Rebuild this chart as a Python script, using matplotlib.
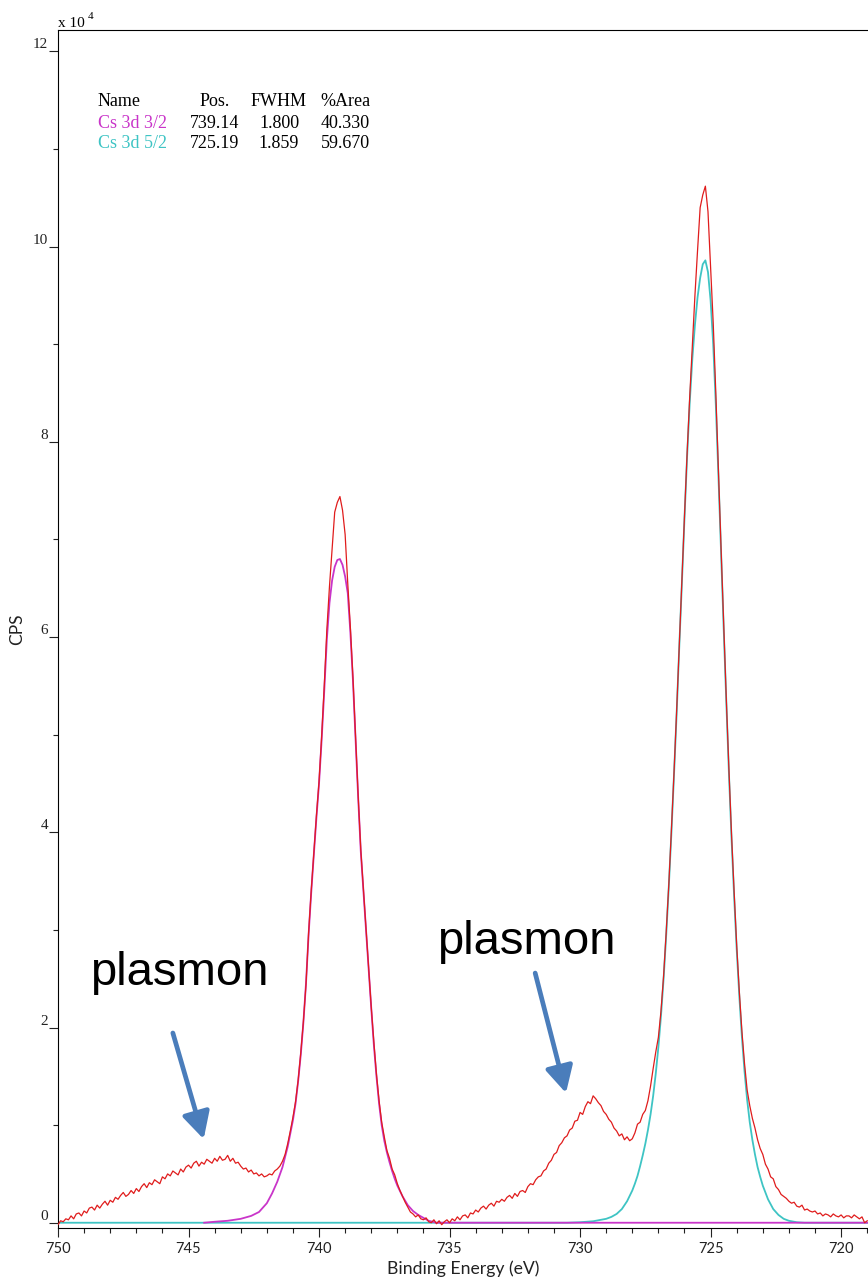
import numpy as np
import matplotlib
matplotlib.use('Agg')
from matplotlib import pyplot as plt
from matplotlib.ticker import MultipleLocator, FuncFormatter

# measured envelope, x 10^4 CPS, 0.1 eV steps from 750.0 eV down to 719.0 eV
be_start = 750.0
be_step = 0.1
cps_total = [
    -0.02, 0.02, 0.01, 0.04, 0.03, 0.07, 0.04, 0.09, 0.10, 0.07,   # 750
    0.12, 0.10, 0.15, 0.16, 0.13, 0.18, 0.15, 0.19, 0.22, 0.18,    # 749
    0.23, 0.21, 0.26, 0.24, 0.28, 0.31, 0.27, 0.29, 0.33, 0.30,    # 748
    0.35, 0.32, 0.37, 0.40, 0.36, 0.41, 0.39, 0.44, 0.42, 0.40,    # 747
    0.47, 0.45, 0.50, 0.48, 0.53, 0.51, 0.49, 0.55, 0.52, 0.57,    # 746
    0.59, 0.56, 0.61, 0.63, 0.58, 0.62, 0.60, 0.65, 0.63, 0.61,    # 745
    0.66, 0.63, 0.68, 0.64, 0.65, 0.69, 0.63, 0.66, 0.61, 0.62,    # 744
    0.58, 0.55, 0.56, 0.52, 0.54, 0.50, 0.51, 0.48, 0.50, 0.47,    # 743
    0.48, 0.50, 0.49, 0.53, 0.55, 0.58, 0.63, 0.70, 0.81, 0.94,    # 742
    1.08, 1.24, 1.46, 1.74, 2.06, 2.44, 2.97, 3.40, 3.78, 4.17,    # 741
    4.52, 4.98, 5.50, 6.08, 6.52, 6.90, 7.28, 7.38, 7.44, 7.30,    # 740
    7.05, 6.55, 6.10, 5.58, 4.97, 4.37, 3.82, 3.42, 3.03, 2.62,    # 739
    2.21, 1.85, 1.52, 1.25, 1.03, 0.88, 0.74, 0.66, 0.55, 0.49,    # 738
    0.40, 0.33, 0.27, 0.21, 0.16, 0.11, 0.09, 0.06, 0.08, 0.04,    # 737
    0.03, 0.05, 0.01, 0.00, 0.03, -0.01, 0.02, -0.02, 0.01, 0.03,  # 736
    0.00, 0.04, 0.02, 0.06, 0.03, 0.07, 0.08, 0.05, 0.10, 0.09,    # 735
    0.13, 0.11, 0.15, 0.17, 0.14, 0.18, 0.20, 0.17, 0.22, 0.21,    # 734
    0.24, 0.22, 0.26, 0.28, 0.25, 0.30, 0.27, 0.32, 0.33, 0.31,    # 733
    0.37, 0.40, 0.39, 0.44, 0.47, 0.48, 0.53, 0.55, 0.61, 0.64,    # 732
    0.70, 0.72, 0.79, 0.82, 0.87, 0.89, 0.95, 0.97, 1.04, 1.05,    # 731
    1.13, 1.11, 1.19, 1.24, 1.22, 1.30, 1.27, 1.23, 1.20, 1.14,    # 730
    1.11, 1.06, 1.03, 0.97, 0.94, 0.89, 0.91, 0.85, 0.88, 0.84,    # 729
    0.86, 0.92, 1.01, 1.03, 1.11, 1.15, 1.25, 1.40, 1.58, 1.75,    # 728
    1.90, 2.17, 2.53, 2.98, 3.47, 4.03, 4.62, 5.25, 5.92, 6.57,    # 727
    7.24, 7.88, 8.46, 8.98, 9.50, 9.96, 10.40, 10.53, 10.62, 10.36, # 726
    9.80, 9.22, 8.50, 7.70, 6.92, 6.14, 5.38, 4.66, 3.99, 3.40,    # 725
    2.84, 2.37, 1.96, 1.63, 1.36, 1.20, 1.07, 0.97, 0.85, 0.76,    # 724
    0.70, 0.60, 0.55, 0.47, 0.45, 0.37, 0.34, 0.29, 0.27, 0.25,    # 723
    0.22, 0.20, 0.21, 0.17, 0.16, 0.18, 0.13, 0.14, 0.12, 0.11,    # 722
    0.12, 0.09, 0.10, 0.07, 0.09, 0.08, 0.06, 0.09, 0.07, 0.06,    # 721
    0.08, 0.05, 0.07, 0.07, 0.05, 0.08, 0.06, 0.04, 0.06, 0.00,    # 720
    0.02,                                                          # 719
]

# Cs 3d 3/2 component
be_32 = [744.4, 744.0, 743.5, 743.0, 742.6, 742.3, 742.0, 741.8, 741.6, 741.4,
         741.2, 741.0, 740.9, 740.8, 740.7, 740.6, 740.5, 740.4, 740.3, 740.2,
         740.1, 740.0, 739.9, 739.8, 739.7, 739.6, 739.5, 739.4, 739.3, 739.2,
         739.1, 739.0, 738.9, 738.8, 738.7, 738.6, 738.5, 738.4, 738.3, 738.2,
         738.1, 738.0, 737.9, 737.8, 737.7, 737.6, 737.5, 737.4, 737.3, 737.2,
         737.1, 737.0, 736.8, 736.6, 736.4, 736.2, 736.0, 735.8, 735.5, 719.0]
cps_32 = [0.0, 0.01, 0.02, 0.04, 0.07, 0.11, 0.20, 0.30, 0.42, 0.57,
          0.78, 1.05, 1.22, 1.45, 1.72, 2.05, 2.45, 2.95, 3.38, 3.77,
          4.15, 4.50, 4.95, 5.45, 5.98, 6.35, 6.58, 6.72, 6.79, 6.80,
          6.74, 6.62, 6.45, 6.05, 5.55, 4.95, 4.35, 3.80, 3.40, 3.00,
          2.60, 2.20, 1.82, 1.50, 1.22, 1.00, 0.84, 0.72, 0.62, 0.53,
          0.45, 0.38, 0.27, 0.18, 0.12, 0.08, 0.05, 0.02, 0.0, 0.0]

# Cs 3d 5/2 component
be_52 = [750.0, 730.5, 730.0, 729.5, 729.0, 728.8, 728.6, 728.4, 728.2, 728.0,
         727.9, 727.8, 727.7, 727.6, 727.5, 727.4, 727.3, 727.2, 727.1, 727.0,
         726.9, 726.8, 726.7, 726.6, 726.5, 726.4, 726.3, 726.2, 726.1, 726.0,
         725.9, 725.8, 725.7, 725.6, 725.5, 725.4, 725.3, 725.2, 725.1, 725.0,
         724.9, 724.8, 724.7, 724.6, 724.5, 724.4, 724.3, 724.2, 724.1, 724.0,
         723.9, 723.8, 723.7, 723.6, 723.5, 723.4, 723.3, 723.2, 723.1, 723.0,
         722.8, 722.6, 722.4, 722.2, 722.0, 721.7, 721.4, 719.0]
cps_52 = [0.0, 0.0, 0.005, 0.015, 0.04, 0.06, 0.09, 0.14, 0.22, 0.33,
          0.40, 0.48, 0.58, 0.69, 0.81, 0.95, 1.11, 1.30, 1.53, 1.80,
          2.12, 2.50, 2.95, 3.45, 4.00, 4.60, 5.22, 5.90, 6.55, 7.22,
          7.85, 8.40, 8.85, 9.20, 9.48, 9.68, 9.82, 9.86, 9.74, 9.45,
          9.00, 8.38, 7.65, 6.88, 6.10, 5.35, 4.62, 3.95, 3.35, 2.80,
          2.32, 1.90, 1.55, 1.26, 1.03, 0.85, 0.70, 0.57, 0.47, 0.38,
          0.24, 0.14, 0.08, 0.04, 0.02, 0.005, 0.0, 0.0]

# fit table
tbl_header = ['Name', 'Pos.', 'FWHM', '%Area']
comp_names = ['Cs 3d 3/2', 'Cs 3d 5/2']
comp_pos = ['739.14', '725.19']
comp_fwhm = ['1.800', '1.859']
comp_area = ['40.330', '59.670']

RED = '#e01c1c'
MAG = '#c935c9'
CYAN = '#3ec4c4'
BLUE = '#4a7dbb'
W, H = 868, 1277

be_grid = be_start - be_step * np.arange(len(cps_total))

fig = plt.figure(figsize=(W / 100, H / 100), dpi=100)
ax = fig.add_axes([58 / W, 49 / H, 810 / W, 1198 / H])

ax.plot(be_52, cps_52, color=CYAN, lw=1.3, zorder=2)
ax.plot(be_32, cps_32, color=MAG, lw=1.3, zorder=3)
ax.plot(be_grid, cps_total, color=RED, lw=0.9, zorder=4)

ax.set_xlim(750, 718.97)
ax.set_ylim(-0.054, 12.22)
ax.spines['right'].set_visible(False)
ax.xaxis.set_major_locator(MultipleLocator(5))
ax.xaxis.set_minor_locator(MultipleLocator(1))
ax.yaxis.set_major_locator(MultipleLocator(2))
ax.yaxis.set_minor_locator(MultipleLocator(1))
ax.xaxis.set_major_formatter(FuncFormatter(lambda v, p: f'{v:g}'))
ax.yaxis.set_major_formatter(FuncFormatter(lambda v, p: f'{v:g}'))
ax.tick_params(which='major', direction='out', length=6.5, width=0.8, colors='#222222')
ax.tick_params(which='minor', direction='out', length=3.5, width=0.8, colors='#222222')
ax.tick_params(axis='x', labelsize=10.5, pad=3.5, labelfontfamily='Lato')
ax.tick_params(axis='y', labelsize=11, pad=0.5, labelfontfamily='Liberation Serif')
for lab in ax.get_yticklabels():
    lab.set_verticalalignment('bottom')

ax.set_xlabel('Binding Energy (eV)', fontfamily='Lato', fontsize=12.7, color='#222222', labelpad=3)
ax.set_ylabel('CPS', fontfamily='Lato', fontsize=12.5, color='#222222')
ax.yaxis.set_label_coords(-0.040, 0.5)

# exponent label
fig.text(58 / W, 1 - 27 / H, 'x 10', fontfamily='Liberation Serif', fontsize=11, va='baseline')
fig.text(88 / W, 1 - 19 / H, '4', fontfamily='Liberation Serif', fontsize=8, va='baseline')

# peak table
serif = 'Liberation Serif'
col_x = [(98, 'left'), (214.5, 'center'), (279, 'center'), (345, 'center')]
row_y = [106.5, 127.5, 147.5]
for (cx, ha), txt in zip(col_x, tbl_header):
    fig.text(cx / W, 1 - row_y[0] / H, txt, fontfamily=serif, fontsize=13, ha=ha, va='baseline')
for i, col in enumerate([MAG, CYAN]):
    vals = [comp_names[i], comp_pos[i], comp_fwhm[i], comp_area[i]]
    for j, ((cx, ha), txt) in enumerate(zip(col_x, vals)):
        fig.text(cx / W, 1 - row_y[i + 1] / H, txt, fontfamily=serif, fontsize=13,
                 ha=ha, va='baseline', color=col if j == 0 else 'black')

# plasmon annotations
ax.text(748.79, 2.435, 'plasmon', fontfamily='Liberation Sans', fontsize=34, va='baseline')
ax.text(735.48, 2.753, 'plasmon', fontfamily='Liberation Sans', fontsize=34, va='baseline')
arrow = dict(arrowstyle='-|>,head_length=0.8,head_width=0.42', color=BLUE, lw=3.4,
             mutation_scale=20, shrinkA=0, shrinkB=0)
ax.annotate('', xy=(744.42, 0.857), xytext=(745.60, 1.944), arrowprops=arrow, zorder=5)
ax.annotate('', xy=(730.54, 1.329), xytext=(731.72, 2.558), arrowprops=arrow, zorder=5)

fig.savefig('out.png', dpi=100)
